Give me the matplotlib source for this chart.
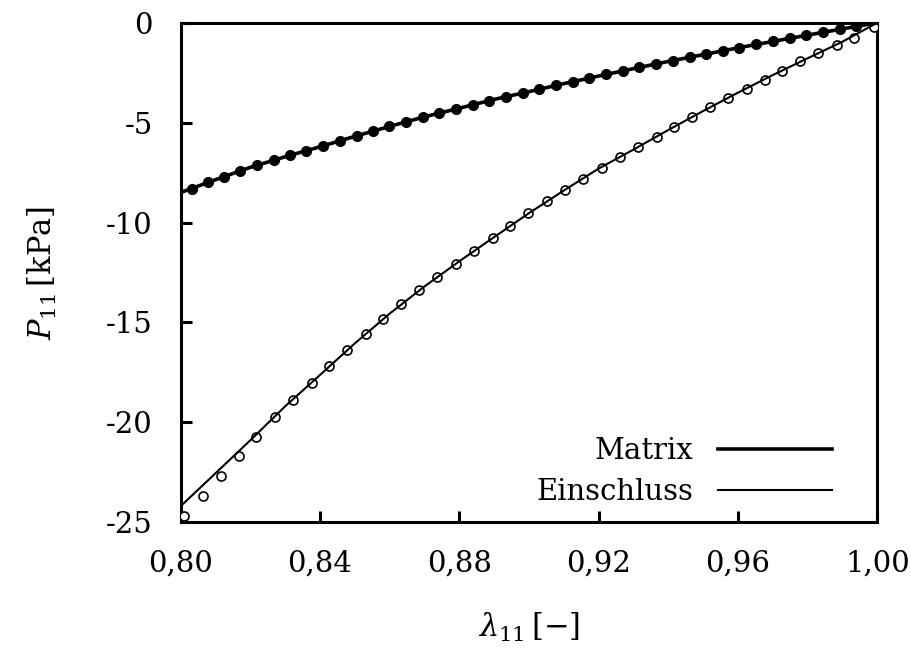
import numpy as np
import matplotlib
matplotlib.use("Agg")
import matplotlib.pyplot as plt
from matplotlib.ticker import FuncFormatter

plt.rcParams['font.family'] = ['DejaVu Serif']
plt.rcParams['mathtext.fontset'] = 'dejavuserif'
plt.rcParams['axes.unicode_minus'] = False

# Modell-Kurven (Linie)
lam_line = [0.80, 0.81, 0.82, 0.83, 0.84, 0.85, 0.86, 0.87, 0.88, 0.89, 0.90,
            0.91, 0.92, 0.93, 0.94, 0.95, 0.96, 0.97, 0.98, 0.99, 1.00]
P_matrix_line = [-8.50, -7.86, -7.24, -6.71, -6.21, -5.69, -5.19, -4.71, -4.28, -3.84, -3.45,
                 -3.05, -2.67, -2.30, -1.94, -1.60, -1.26, -0.94, -0.62, -0.31, 0.0]
P_einschluss_line = [-24.20, -22.55, -20.90, -19.20, -17.63, -16.05, -14.56, -13.20, -11.94, -10.73, -9.53,
                     -8.40, -7.30, -6.35, -5.37, -4.42, -3.50, -2.62, -1.78, -0.95, 0.0]

# Messpunkte Matrix (gefuellt)
lam_matrix = [0.8032, 0.8080, 0.8126, 0.8172, 0.8220, 0.8268, 0.8313, 0.8361, 0.8409, 0.8457,
              0.8505, 0.8553, 0.8599, 0.8647, 0.8695, 0.8743, 0.8790, 0.8838, 0.8886, 0.8934,
              0.8982, 0.9030, 0.9077, 0.9125, 0.9173, 0.9221, 0.9269, 0.9317, 0.9365, 0.9413,
              0.9461, 0.9508, 0.9556, 0.9604, 0.9652, 0.9700, 0.9748, 0.9796, 0.9844, 0.9892,
              0.9940, 0.9988]
P_matrix = [-8.30, -7.99, -7.70, -7.41, -7.13, -6.88, -6.64, -6.41, -6.16, -5.91,
            -5.66, -5.42, -5.19, -4.96, -4.73, -4.52, -4.32, -4.11, -3.90, -3.71,
            -3.52, -3.33, -3.14, -2.96, -2.77, -2.59, -2.41, -2.24, -2.07, -1.90,
            -1.73, -1.57, -1.41, -1.25, -1.09, -0.94, -0.79, -0.63, -0.48, -0.33,
            -0.19, -0.04]

# Messpunkte Einschluss (offen)
lam_einschluss = [0.8011, 0.8064, 0.8117, 0.8168, 0.8216, 0.8270, 0.8323, 0.8376, 0.8426, 0.8479,
                  0.8531, 0.8581, 0.8634, 0.8685, 0.8737, 0.8790, 0.8842, 0.8896, 0.8945, 0.8998,
                  0.9051, 0.9103, 0.9156, 0.9209, 0.9261, 0.9314, 0.9367, 0.9415, 0.9467, 0.9520,
                  0.9570, 0.9626, 0.9678, 0.9726, 0.9779, 0.9831, 0.9884, 0.9934, 0.9989]
P_einschluss = [-24.70, -23.70, -22.70, -21.70, -20.73, -19.75, -18.88, -18.03, -17.18, -16.37,
                -15.57, -14.82, -14.10, -13.40, -12.73, -12.07, -11.40, -10.77, -10.15, -9.53,
                -8.92, -8.37, -7.83, -7.28, -6.73, -6.23, -5.70, -5.23, -4.73, -4.23,
                -3.76, -3.32, -2.85, -2.40, -1.93, -1.52, -1.12, -0.77, -0.23]

xticks = [0.80, 0.84, 0.88, 0.92, 0.96, 1.00]
yticks = [0, -5, -10, -15, -20, -25]

fig = plt.figure(figsize=(9.12, 6.48), dpi=100)
ax = fig.add_axes([0.198, 0.194, 0.764, 0.771])

ax.plot(lam_matrix, P_matrix, 'o', color='black', ms=7, zorder=3)
ax.plot(lam_einschluss, P_einschluss, 'o', mfc='white', mec='black', mew=1.2, ms=6.5, zorder=3)
ax.plot(lam_line, P_matrix_line, '-', color='black', lw=2.6, label='Matrix', zorder=4)
ax.plot(lam_line, P_einschluss_line, '-', color='black', lw=1.5, label='Einschluss', zorder=4)

ax.set_xlim(0.80, 1.00)
ax.set_ylim(-25, 0)
ax.set_xticks(xticks)
ax.set_yticks(yticks)
ax.xaxis.set_major_formatter(FuncFormatter(lambda v, p: ('%.2f' % v).replace('.', ',')))
ax.yaxis.set_major_formatter(FuncFormatter(lambda v, p: '%d' % v))
ax.tick_params(direction='in', length=8, width=2.2, labelsize=21, top=False, right=False)
ax.tick_params(axis='x', pad=20)
ax.tick_params(axis='y', pad=20)
for s in ax.spines.values():
    s.set_linewidth(2.2)

ax.set_xlabel(r'$\lambda_{11}\,[-]$', fontsize=22, labelpad=24)
ax.set_ylabel(r'$P_{11}\,[\mathrm{kPa}]$', fontsize=22, labelpad=34)

ax.legend(loc='lower right', frameon=False, markerfirst=False, fontsize=21,
          handlelength=3.9, handletextpad=0.85, labelspacing=0.45,
          bbox_to_anchor=(0.972, -0.02))

fig.savefig('out.png', dpi=100)
